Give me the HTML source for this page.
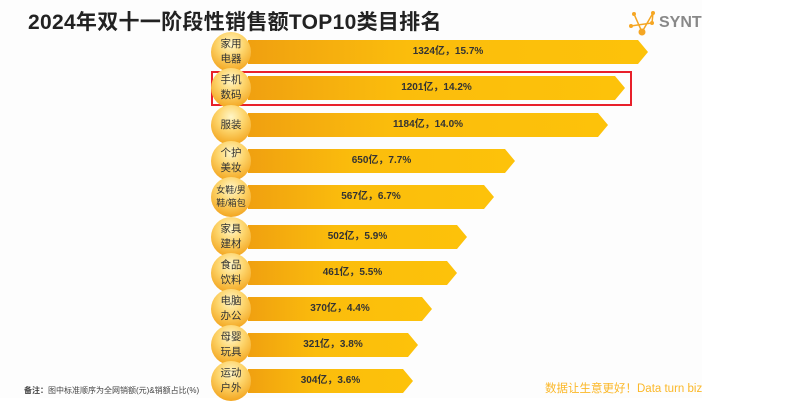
<!DOCTYPE html>
<html><head><meta charset="utf-8"><style>
body{margin:0;width:800px;height:417px;background:#fff;overflow:hidden;position:relative;font-family:"Liberation Sans","Noto Sans CJK SC",sans-serif}
.bg{position:absolute;left:0;top:0;width:702px;height:398px;background:#fdfdfd}
.title{position:absolute;left:28px;top:6px;font-size:21px;font-weight:bold;color:#222;letter-spacing:0.3px}
.bar{position:absolute;height:24px;background:linear-gradient(90deg,#f0a010,#fbbd0c 40%,#fdc20a);font-size:10px;color:#333;font-weight:bold;line-height:24px;text-align:center}
.circ{position:absolute;width:40px;height:40px;border-radius:50%;background:radial-gradient(circle at 50% 30%,#fff6c8,#fdd46a 40%,#f2a21a 85%,#e89510);font-size:10.5px;color:#333;line-height:15px;display:flex;align-items:center;justify-content:center;text-align:center}
.red{position:absolute;left:211px;top:71px;width:417px;height:31px;border:2px solid #e8202a}
</style></head><body>
<div class="bg"></div>
<div class="title">2024年双十一阶段性销售额TOP10类目排名</div>
<svg style="position:absolute;left:628px;top:8px" width="30" height="30"><g stroke="#f5a623" stroke-width="1.5" fill="none"><path d="M6 6L14 24L25 5L24 15L3 18"/></g><g fill="#f5a623"><circle cx="6" cy="6" r="2"/><circle cx="25" cy="5" r="2"/><circle cx="24" cy="15" r="2"/><circle cx="3" cy="18" r="2"/><circle cx="14" cy="24" r="3.5"/></g></svg>
<div style="position:absolute;left:659px;top:14px;font-size:16px;color:#888;font-weight:bold;width:43px;overflow:hidden;white-space:nowrap">SYNTUN</div>
<div class="red"></div>
<div id="rows"></div>
<div style="position:absolute;left:24px;top:385px;font-size:8px;color:#444"><b>备注：</b>图中标准顺序为全网销额(元)&amp;销额占比(%)</div>
<div style="position:absolute;left:545px;top:380px;font-size:11.5px;color:#fbb829">数据让生意更好！Data turn biz</div>
<script>
var d=[["家用<br>电器","1324亿，15.7%",52,648],["手机<br>数码","1201亿，14.2%",88,625],["服装","1184亿，14.0%",125,608],["个护<br>美妆","650亿，7.7%",161,515],["女鞋/男<br>鞋/箱包","567亿，6.7%",197,494],["家具<br>建材","502亿，5.9%",237,467],["食品<br>饮料","461亿，5.5%",273,457],["电脑<br>办公","370亿，4.4%",309,432],["母婴<br>玩具","321亿，3.8%",345,418],["运动<br>户外","304亿，3.6%",381,413]];
var h="";d.forEach(function(r){var w=r[3]-248;h+='<div class="bar" style="left:248px;top:'+(r[2]-12)+'px;width:'+w+'px;clip-path:polygon(0 0,calc(100% - 10px) 0,100% 50%,calc(100% - 10px) 100%,0 100%)">'+r[1]+'</div><div class="circ" style="left:211px;top:'+(r[2]-20)+'px;'+(r[0].length>10?'font-size:9px;line-height:13px':'')+'">'+r[0]+'</div>';});
document.getElementById("rows").innerHTML=h;
</script>
</body></html>
